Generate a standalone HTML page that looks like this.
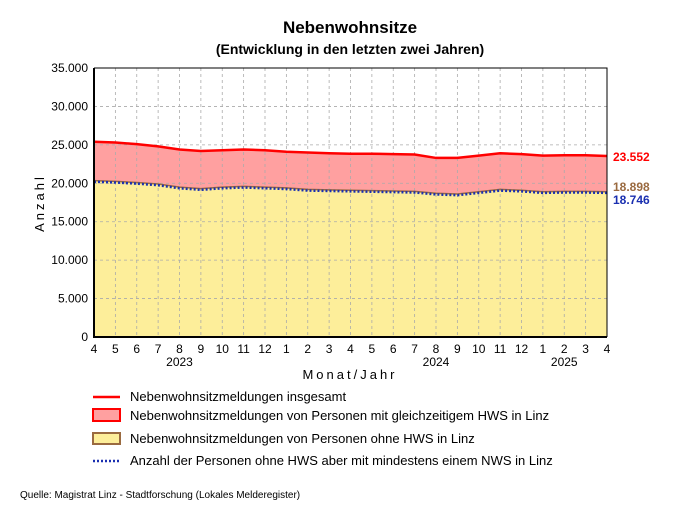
<!DOCTYPE html>
<html><head><meta charset="utf-8"><style>
body{margin:0;background:#fff;}
svg{display:block;font-family:"Liberation Sans",sans-serif;}
</style></head><body>
<svg id="c" width="680" height="510" xmlns="http://www.w3.org/2000/svg">
<text x="350" y="33" text-anchor="middle" font-size="17" font-weight="bold">Nebenwohnsitze</text>
<text x="350" y="54" text-anchor="middle" font-size="14" font-weight="bold">(Entwicklung in den letzten zwei Jahren)</text>
<g id="plot"></g>
<text transform="translate(44,203) rotate(-90)" text-anchor="middle" font-size="13" letter-spacing="3">Anzahl</text>
<text x="350" y="379" text-anchor="middle" font-size="13" letter-spacing="3">Monat/Jahr</text>
<g font-size="13">
<line x1="93" y1="397" x2="120" y2="397" stroke="#f00" stroke-width="2.5"/>
<text x="130" y="401">Nebenwohnsitzmeldungen insgesamt</text>
<rect x="93" y="409" width="27" height="12" fill="#ffa0a0" stroke="#f00" stroke-width="2"/>
<text x="130" y="420">Nebenwohnsitzmeldungen von Personen mit gleichzeitigem HWS in Linz</text>
<rect x="93" y="433" width="27" height="11" fill="#fdee9a" stroke="#9a6a40" stroke-width="2"/>
<text x="130" y="443">Nebenwohnsitzmeldungen von Personen ohne HWS in Linz</text>
<line x1="93" y1="461" x2="120" y2="461" stroke="#1a2fb0" stroke-width="2.5" stroke-dasharray="2,2"/>
<text x="130" y="465">Anzahl der Personen ohne HWS aber mit mindestens einem NWS in Linz</text>
</g>
<text x="20" y="498" font-size="10">Quelle: Magistrat Linz - Stadtforschung (Lokales Melderegister)</text>
</svg>
<script>
const months=["4","5","6","7","8","9","10","11","12","1","2","3","4","5","6","7","8","9","10","11","12","1","2","3","4"];
const yearLabels=["2023","2024","2025"];
const yearIdx=[4,16,22];
const total=[25400,25300,25100,24800,24400,24200,24300,24400,24300,24100,24000,23900,23850,23850,23800,23750,23300,23300,23600,23900,23800,23600,23650,23650,23552];
const noHws=[20350,20250,20100,19900,19500,19300,19500,19600,19500,19400,19200,19150,19100,19050,19000,18950,18700,18600,18900,19200,19100,18900,18950,18950,18898];
const persons=[20200,20100,19950,19750,19350,19150,19350,19450,19350,19250,19050,19000,18950,18900,18850,18800,18550,18450,18750,19050,18950,18750,18800,18800,18746];
const yTicks=[0,5000,10000,15000,20000,25000,30000,35000];
const yTickLabels=["0","5.000","10.000","15.000","20.000","25.000","30.000","35.000"];
const X0=94,X1=607,Y0=337,Y1=68,YMAX=35000;
const xs=i=>X0+i*(X1-X0)/(months.length-1);
const ys=v=>Y0-v/YMAX*(Y0-Y1);
const g=document.getElementById('plot');
const NS="http://www.w3.org/2000/svg";
function mk(t,a){const e=document.createElementNS(NS,t);for(const k in a)e.setAttribute(k,a[k]);g.appendChild(e);return e;}
let e=mk('rect',{x:X0,y:Y1,width:X1-X0,height:Y0-Y1,fill:'#fff'});


const pts=a=>a.map((v,i)=>xs(i)+','+ys(v)).join(' ');
e=mk('polygon',{points:pts(total)+' '+xs(months.length-1)+','+Y0+' '+X0+','+Y0,fill:'#ffa0a0'});


e=mk('polygon',{points:pts(noHws)+' '+xs(months.length-1)+','+Y0+' '+X0+','+Y0,fill:'#fdee9a'});


yTicks.forEach((v,i)=>{
 if(v>0){const l=mk('line',{x1:X0,x2:X1,y1:ys(v),y2:ys(v),stroke:'#aaa','stroke-dasharray':'3,3','stroke-width':0.8});
 
 }
 const t=mk('text',{x:X0-6,y:ys(v)+4,'text-anchor':'end','font-size':12});t.textContent=yTickLabels[i];
 
 
});
months.forEach((m,i)=>{
 if(i>0&&i<months.length-1){const l=mk('line',{x1:xs(i),x2:xs(i),y1:Y1,y2:Y0,stroke:'#aaa','stroke-dasharray':'3,3','stroke-width':0.8});
 
 }
 const t=mk('text',{x:xs(i),y:Y0+16,'text-anchor':'middle','font-size':12});t.textContent=m;
 
 
});
yearLabels.forEach((y,i)=>{const t=mk('text',{x:xs(yearIdx[i]),y:Y0+29,'text-anchor':'middle','font-size':12});t.textContent=y;
 
 });
e=mk('polyline',{points:pts(noHws),fill:'none',stroke:'#9a6a40','stroke-width':1.5});


e=mk('polyline',{points:pts(persons),fill:'none',stroke:'#1a2fb0','stroke-width':2.5,'stroke-dasharray':'2,2'});


e=mk('polyline',{points:pts(total),fill:'none',stroke:'#f00','stroke-width':2.5});


e=mk('polyline',{points:X0+','+Y1+' '+X0+','+Y0+' '+X1+','+Y0,fill:'none',stroke:'#000','stroke-width':2});


e=mk('polyline',{points:X0+','+Y1+' '+X1+','+Y1+' '+X1+','+Y0,fill:'none',stroke:'#000','stroke-width':1});


const fmt=v=>String(v).replace(/\B(?=(\d{3})+(?!\d))/g,'.');
const n=months.length-1;
let t=mk('text',{x:613,y:ys(total[n])+5,'font-size':12,'font-weight':'bold',fill:'#f00'});t.textContent=fmt(total[n]);


t=mk('text',{x:613,y:ys(noHws[n])-1,'font-size':12,'font-weight':'bold',fill:'#9a6a40'});t.textContent=fmt(noHws[n]);


t=mk('text',{x:613,y:ys(persons[n])+11,'font-size':12,'font-weight':'bold',fill:'#1a2fb0'});t.textContent=fmt(persons[n]);


</script>
</body></html>
